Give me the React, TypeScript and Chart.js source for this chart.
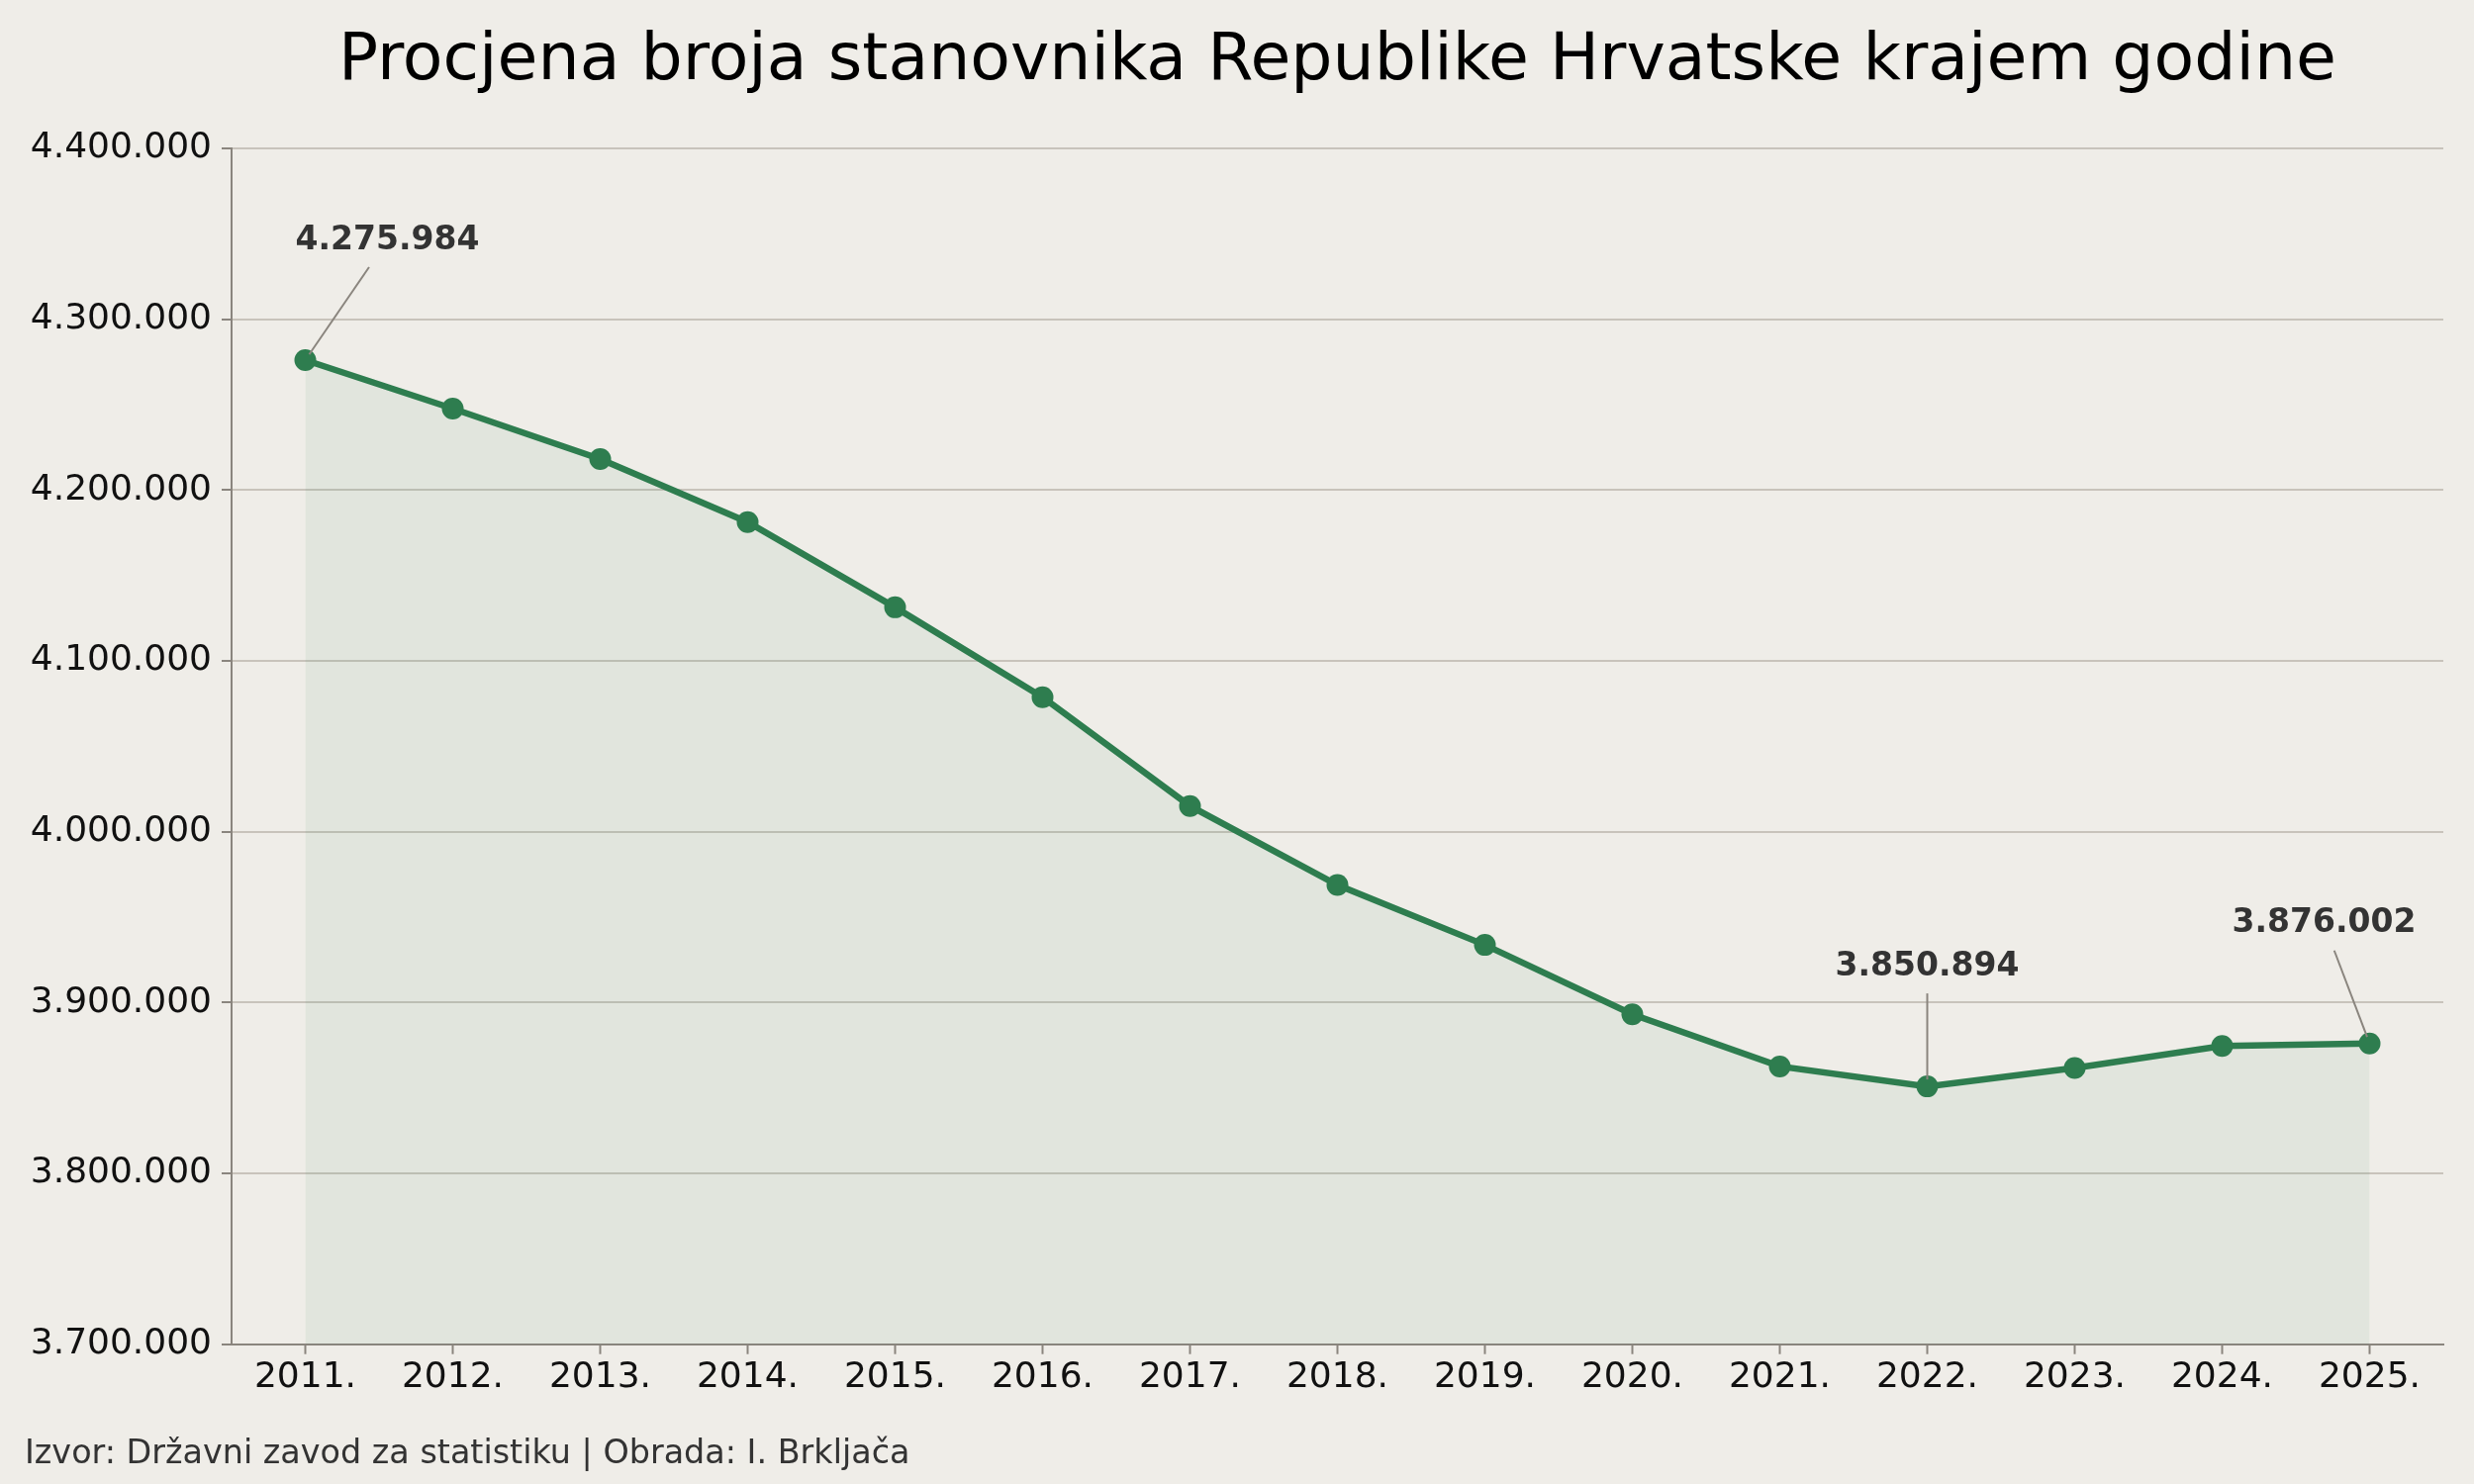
import { Chart, registerables } from "chart.js";
import type { Plugin } from "chart.js";
import { useEffect, useRef } from "react";

Chart.register(...registerables);

const years = ["2011.", "2012.", "2013.", "2014.", "2015.", "2016.", "2017.", "2018.", "2019.", "2020.", "2021.", "2022.", "2023.", "2024.", "2025."];
const population = [4275984, 4247600, 4218100, 4181200, 4131300, 4078700, 4015000, 3968800, 3933700, 3893100, 3862600, 3850894, 3861700, 3874600, 3876002];
const annotatedYears = ["2011.", "2022.", "2025."];

const yMin = 3700000;
const yMax = 4400000;
const yStep = 100000;

const BG = "#efede8";
const GREEN = "#2e7d4f";
const SPINE = "#8a857e";
const FONT = "'DejaVu Sans', sans-serif";

// label offsets in pixels, relative to the point
const labelOffsets: Record<string, [number, number]> = {
  "2011.": [83, -121],
  "2022.": [0, -121],
  "2025.": [-46, -121],
};

function fmt(n: number): string {
  return Math.round(n)
    .toString()
    .replace(/\B(?=(\d{3})+(?!\d))/g, ".");
}

const background: Plugin<"line"> = {
  id: "background",
  beforeDraw(chart) {
    const { ctx, width, height } = chart;
    ctx.save();
    ctx.fillStyle = BG;
    ctx.fillRect(0, 0, width, height);
    ctx.restore();
  },
};

const annotations: Plugin<"line"> = {
  id: "annotations",
  afterDatasetsDraw(chart) {
    const { ctx } = chart;
    const meta = chart.getDatasetMeta(0);
    ctx.save();
    annotatedYears.forEach((year) => {
      const i = years.indexOf(year);
      const pt = meta.data[i];
      const [dx, dy] = labelOffsets[year];
      const t0 = 94 / 121;
      const len = Math.hypot(dx, dy);
      const t1 = 7 / len;
      ctx.strokeStyle = SPINE;
      ctx.lineWidth = 2;
      ctx.beginPath();
      ctx.moveTo(pt.x + dx * t0, pt.y + dy * t0);
      ctx.lineTo(pt.x + dx * t1, pt.y + dy * t1);
      ctx.stroke();
      ctx.fillStyle = "#333333";
      ctx.font = `bold 33px ${FONT}`;
      ctx.textAlign = "center";
      ctx.textBaseline = "middle";
      ctx.fillText(fmt(population[i]), pt.x + dx, pt.y + dy);
    });
    ctx.restore();
  },
};

function PopulationChart(): JSX.Element {
  const canvasRef = useRef<HTMLCanvasElement | null>(null);

  useEffect(() => {
    document.body.style.margin = "0";
    document.body.style.background = BG;
    const canvas = canvasRef.current;
    if (!canvas) return;

    const chart = new Chart(canvas, {
      type: "line",
      data: {
        labels: years,
        datasets: [
          {
            data: population,
            borderColor: GREEN,
            borderWidth: 6.5,
            backgroundColor: "rgba(46,125,79,0.07)",
            fill: "start",
            pointRadius: 11,
            pointHoverRadius: 11,
            pointBackgroundColor: GREEN,
            pointBorderColor: GREEN,
            pointBorderWidth: 0,
            tension: 0,
          },
        ],
      },
      options: {
        animation: false,
        responsive: false,
        devicePixelRatio: 1,
        layout: { padding: { left: 25, right: 31, top: 0, bottom: 0 } },
        plugins: {
          legend: { display: false },
          tooltip: { enabled: false },
          title: {
            display: true,
            text: "Procjena broja stanovnika Republike Hrvatske krajem godine",
            fullSize: false,
            color: "#000000",
            font: { family: FONT, size: 66.5, weight: "normal", lineHeight: 1.2 },
            padding: { top: 23, bottom: 47 },
          },
          subtitle: {
            display: true,
            position: "bottom",
            align: "start",
            text: "Izvor: Državni zavod za statistiku | Obrada: I. Brkljača",
            color: "#333333",
            font: { family: FONT, size: 33.4, weight: "normal", lineHeight: 1.2 },
            padding: { top: 33, bottom: 10 },
          },
        },
        scales: {
          x: {
            offset: true,
            grid: {
              drawOnChartArea: false,
              drawTicks: true,
              tickLength: 10,
              tickColor: SPINE,
              tickWidth: 2,
            },
            border: { color: SPINE, width: 2 },
            ticks: {
              color: "#111111",
              font: { family: FONT, size: 36 },
              padding: 2.5,
              maxRotation: 0,
              autoSkip: false,
            },
          },
          y: {
            min: yMin,
            max: yMax,
            afterFit(scale) {
              scale.width = 209;
            },
            grid: {
              color: "#c8c3bb",
              lineWidth: 2,
              tickLength: 10,
              tickColor: SPINE,
              tickWidth: 2,
            },
            border: { color: SPINE, width: 2 },
            ticks: {
              stepSize: yStep,
              color: "#111111",
              font: { family: FONT, size: 36 },
              padding: 10,
              callback: (v) => fmt(Number(v)),
            },
          },
        },
      },
      plugins: [background, annotations],
    });

    return () => {
      chart.destroy();
    };
  }, []);

  return (
    <div style={{ width: 2500, height: 1500 }}>
      <canvas ref={canvasRef} width={2500} height={1500}></canvas>
    </div>
  );
}

export default function App(): JSX.Element {
  return <PopulationChart />;
}
